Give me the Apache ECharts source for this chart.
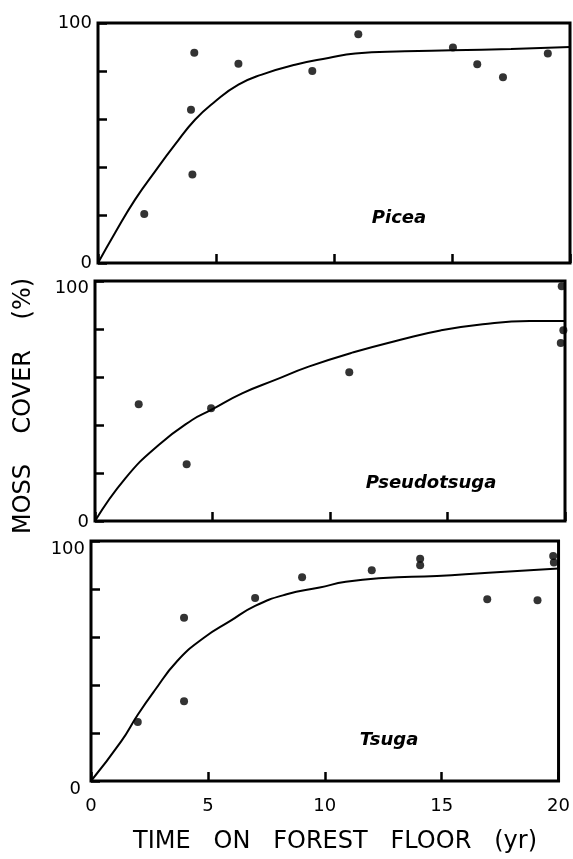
<!DOCTYPE html>
<html><head><meta charset="utf-8">
<script src="https://cdn.jsdelivr.net/npm/echarts@6/dist/echarts.min.js"></script>
<style>html,body{margin:0;padding:0;background:#fff}#c{width:573px;height:859px}</style>
</head><body><div id="c"></div>
<script>
// ---- data ----
const xTickValues = [0, 5, 10, 15, 20];
const yTickLabelValues = [0, 100];
const speciesNames = ['Picea', 'Pseudotsuga', 'Tsuga'];
const xTitle = 'TIME   ON   FOREST   FLOOR   (yr)';
const yTitle = 'MOSS    COVER    (%)';

const piceaPoints = [[1.96,20.4],[3.94,63.9],[4.0,36.9],[4.08,87.6],[5.95,83],[9.08,80],[11.03,95.3],[15.04,89.8],[16.07,82.8],[17.16,77.4],[19.06,87.3]];
const piceaCurve = [[0,0],[0.72,12.5],[1.57,26.4],[2.42,38.2],[3.26,49.3],[4.11,59.7],[4.96,67.3],[5.95,74.3],[6.94,78.5],[8.35,82.6],[9.76,85.4],[10.9,87.3],[13,88.2],[15,88.6],[17.5,89.2],[20,90]];

const pseudoPoints = [[1.86,48.6],[3.9,23.6],[4.94,47],[10.82,62],[19.86,97.8],[19.93,79.5],[19.82,74.2]];
const pseudoCurve = [[0,0],[1.29,17.8],[2.71,31.7],[4.13,42.1],[4.94,46.3],[6.26,53.2],[7.67,58.8],[9.09,64.3],[11,70.3],[13,75.5],[14.7,79.4],[16.5,82],[18.5,83.3],[20,83.3]];

const tsugaPoints = [[2.0,24.6],[3.98,68],[3.98,33.2],[7.02,76.3],[9.03,84.9],[12.01,87.8],[14.08,92.6],[14.08,89.9],[16.95,75.7],[19.1,75.3],[19.77,93.7],[19.8,91]];
const tsugaCurve = [[0,0],[1.29,16.5],[2,27.6],[2.7,37.4],[3.69,50],[4.83,59.7],[5.96,66.7],[7.02,73],[8.37,77.8],[9.78,80.6],[10.9,83],[12.5,84.6],[14.8,85.4],[17,86.8],[20,88.5]];

const panels = [
  {name: speciesNames[0], points: piceaPoints, curve: piceaCurve},
  {name: speciesNames[1], points: pseudoPoints, curve: pseudoCurve},
  {name: speciesNames[2], points: tsugaPoints, curve: tsugaCurve}
];

// ---- layout ----
const gridBoxes = [
  {left: 98, top: 23, width: 472, height: 240},
  {left: 95, top: 281, width: 470, height: 240},
  {left: 91, top: 541, width: 471, height: 240}
];
const labelPos = [[399, 218], [431, 483], [389, 740]];
const topLabelShift = [0, 14, 16];
const zeroLabelShift = [0, 2, 16];
const zeroLabelRight = [0, 0, 4];

const FONT = 'DejaVu Sans';
const INK = '#000';

const option = {
  backgroundColor: '#fff',
  animation: false,
  grid: gridBoxes.map(g => Object.assign({show: true, borderColor: INK, borderWidth: 3, backgroundColor: 'transparent'}, g)),
  xAxis: panels.map((p, i) => ({
    gridIndex: i, type: 'value', min: xTickValues[0], max: xTickValues[xTickValues.length - 1], interval: 5,
    axisLine: {show: false},
    axisTick: {show: true, inside: true, length: 9, lineStyle: {color: INK, width: 2.5}},
    splitLine: {show: false},
    axisLabel: {show: i === 2, margin: 16, fontFamily: FONT, fontSize: 18, color: INK,
      formatter: v => xTickValues.indexOf(v) >= 0 ? String(v) : ''}
  })),
  yAxis: panels.map((p, i) => ({
    gridIndex: i, type: 'value', min: 0, max: 100, interval: 20,
    axisLine: {show: false},
    axisTick: {show: true, inside: true, length: 9, lineStyle: {color: INK, width: 2.5}},
    splitLine: {show: false},
    axisLabel: {show: true, margin: 6, fontFamily: FONT, fontSize: 18, color: INK,
      formatter: v => v === yTickLabelValues[1] ? '{t|' + v + '}' : (v === yTickLabelValues[0] ? '{z|' + v + '}' : ''),
      rich: {
        t: {fontFamily: FONT, fontSize: 18, color: INK, padding: [topLabelShift[i], 0, 0, 0]},
        z: {fontFamily: FONT, fontSize: 18, color: INK, padding: [zeroLabelShift[i], zeroLabelRight[i], 0, 0]}
      }
    }
  })),
  series: panels.flatMap((p, i) => [
    {type: 'line', name: p.name + ' fit', xAxisIndex: i, yAxisIndex: i, data: p.curve, smooth: 0.5,
      showSymbol: false, lineStyle: {color: INK, width: 2}, silent: true},
    {type: 'scatter', name: p.name, xAxisIndex: i, yAxisIndex: i, data: p.points, symbolSize: 8,
      itemStyle: {color: INK}}
  ]),
  graphic: [
    ...panels.map((p, i) => ({type: 'text', x: labelPos[i][0], y: labelPos[i][1],
      style: {text: p.name, fontFamily: FONT, fontSize: 18, fontStyle: 'italic', fontWeight: 'bold', fill: INK, align: 'center', verticalAlign: 'middle'}})),
    {type: 'text', x: 335, y: 842, style: {text: xTitle, fontFamily: FONT, fontSize: 24, fill: INK, align: 'center', verticalAlign: 'middle'}},
    {type: 'text', x: 24, y: 406, rotation: Math.PI / 2,
      style: {text: yTitle, fontFamily: FONT, fontSize: 24, fill: INK, align: 'center', verticalAlign: 'middle'}}
  ]
};

const chart = echarts.init(document.getElementById('c'), null, {renderer: 'canvas'});
chart.setOption(option);
</script>
</body></html>
